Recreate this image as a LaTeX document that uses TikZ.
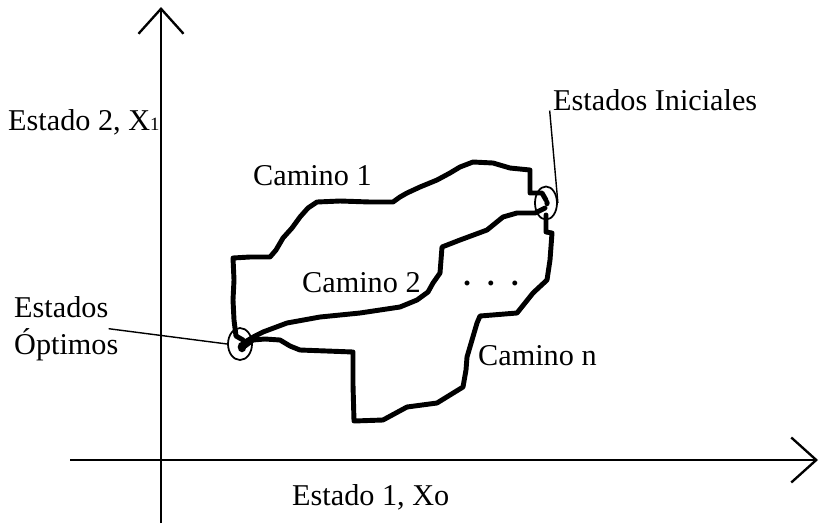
\documentclass[tikz,border=0pt]{standalone}
\usepackage{fontspec}
\setmainfont{Liberation Serif}
\usetikzlibrary{arrows.meta,shapes.geometric}
\tikzset{
  lbl/.style={inner sep=0pt,font=\fontsize{25.8}{32}\selectfont},
  axis/.style={line width=2pt,-{Straight Barb[length=7.5mm,width=13.5mm]}},
  camino/.style={line width=4.2pt,line join=round,line cap=round},
  estado/.style={draw,ellipse,line width=1.5pt,inner sep=0pt},
  leader/.style={line width=1.2pt}
}
\begin{document}
\begin{tikzpicture}[x=0.03cm,y=-0.03cm]
  \useasboundingbox (0,0) rectangle (822,527);
  \coordinate (yb) at (161,523);
  \coordinate (yt) at (161,7);
  \coordinate (xl) at (70,460);
  \coordinate (xr) at (818,460);
  \draw[axis] (yb) -- (yt);
  \draw[axis] (xl) -- (xr);
  \node[lbl,anchor=base west] (x1) at (8,130) {Estado 2, X{\fontsize{16}{16}\selectfont 1}};
  \node[lbl,anchor=base west] (x0) at (292,505) {Estado 1, Xo};
  % caminos
  \draw[camino] plot coordinates {(243,340) (236,336) (234,320) (233,300) (234,280) (233,258)
    (250,257) (270,257) (276,250) (283,238) (292,228) (300,217) (308,208) (317,202) (340,201)
    (370,202) (393,202) (400,197) (407,193) (420,187) (437,180) (450,173) (460,167) (473,162)
    (493,163) (510,168) (530,170) (530,182) (530,193) (542,193) (546,200)};
  \draw[camino] plot coordinates {(245,342) (255,336) (263,332) (287,323) (320,317) (360,313)
    (400,307) (417,300) (428,292) (433,283) (440,273) (441,260) (442,247) (460,240) (487,230)
    (503,217) (517,213) (535,213) (545,208)};
  \draw[camino] plot coordinates {(245,346) (253,340) (265,339) (280,340) (290,346) (300,350)
    (353,352) (353,385) (354,421) (383,420) (407,407) (437,403) (463,387) (466,370) (467,357)
    (472,340) (477,323) (480,316) (517,313) (533,293) (547,280) (550,260) (552,233) (546,232)
    (546,215)};
  \fill (242,347) ellipse [x radius=0.13cm,y radius=0.16cm];
  \fill (547,203) ellipse [x radius=0.08cm,y radius=0.1cm];
  \node[lbl,anchor=base west] (c1) at (253,185) {Camino 1};
  \node[lbl,anchor=base west] (c2) at (302,292) {Camino 2};
  \node[lbl,anchor=base west] (cn) at (478,365) {Camino n};
  \node[lbl,anchor=base] (dots) at (491,285) {\textbf{.}\hspace{14pt}\textbf{.}\hspace{14pt}\textbf{.}};
  % estados
  \node[estado,minimum width=0.72cm,minimum height=0.96cm] (o) at (240,344) {};
  \node[estado,minimum width=0.66cm,minimum height=0.99cm] (i) at (546,203) {};
  \node[lbl,anchor=base west] (il) at (553,110) {Estados Iniciales};
  \node[lbl,anchor=north west,align=left] (ol) at (14,296) {Estados\\Óptimos};
  \draw[leader] ([xshift=-0.3cm]ol.east) -- (o.west);
  \draw[leader] ([xshift=-0.1cm]il.south west) -- (i.east);
\end{tikzpicture}
\end{document}
